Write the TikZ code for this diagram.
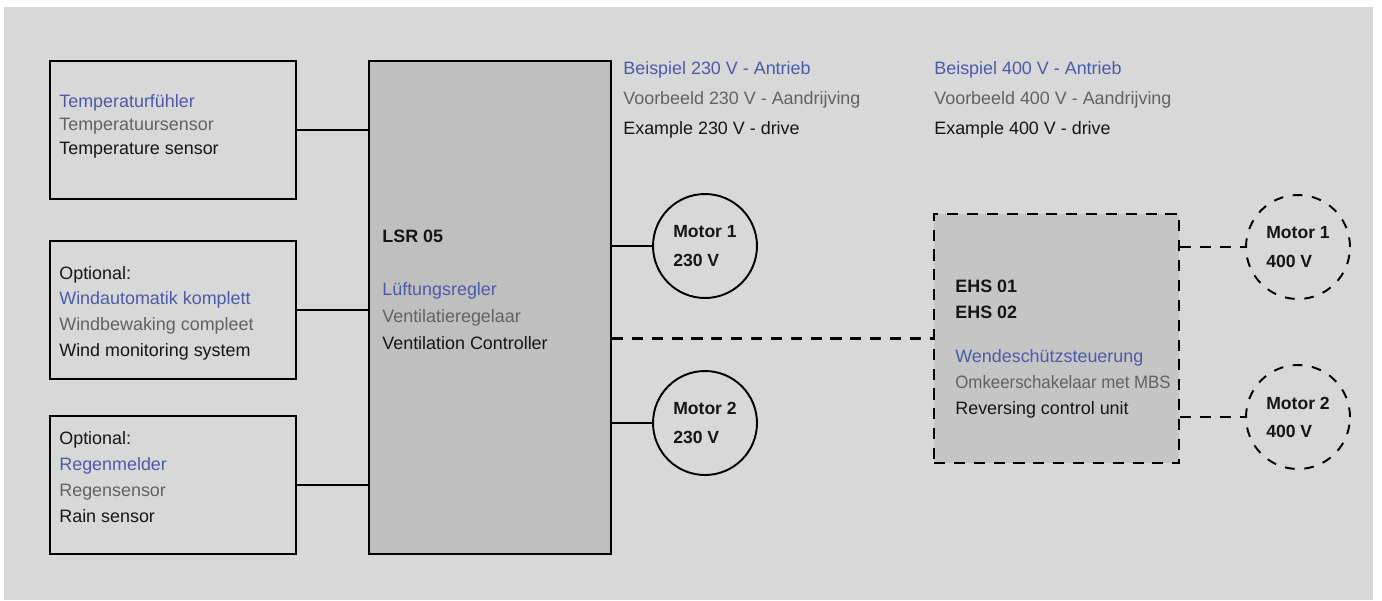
\documentclass[tikz,border=0pt]{standalone}
\usepackage{fontspec}
\usepackage{graphicx}
\setmainfont{Liberation Sans}
\usetikzlibrary{positioning}
\definecolor{PanelGrey}{HTML}{D8D8D8}
\definecolor{LsrGrey}{HTML}{BFBFBF}
\definecolor{EhsGrey}{HTML}{C5C5C5}
\definecolor{TxtBlue}{HTML}{4D5AA8}
\definecolor{TxtGrey}{HTML}{626262}
\definecolor{TxtBlack}{HTML}{161616}

% three languages: German, Dutch, English
\newcommand{\threelang}[3]{{\color{TxtBlue}#1}\\{\color{TxtGrey}#2}\\{\color{TxtBlack}#3}}

\tikzset{
  unitbox/.style={draw, line width=1.2pt, minimum width=4.92cm, minimum height=2.76cm},
  plaintxt/.style={anchor=base west, align=left, inner sep=0pt, text=TxtBlack},
  motor/.style={draw, circle, line width=1.1pt, minimum size=2.08cm, inner sep=0pt,
    align=left, font=\bfseries, text=TxtBlack},
  wire/.style={line width=1.2pt},
  optwire/.style={line width=1.2pt, dash pattern=on 6.3pt off 5pt}
}

\begin{document}
\begin{tikzpicture}[x=0.02cm, y=-0.02cm, font=\fontsize{10.2}{14.2}\selectfont]
  \useasboundingbox (0,0) rectangle (1382,600);
  \fill[white] (0,0) rectangle (1382,600);
  \fill[PanelGrey] (4,7) rectangle (1373,600);

  % Sensor boxes on the left (text placed at the last baseline)
  \node[unitbox] (temp) at (173,130) {};
  \node[unitbox] (wind) at (173,310) {};
  \node[unitbox] (rain) at (173,485) {};
  \node[plaintxt, font=\fontsize{10.2}{13.2}\selectfont] (temptxt) at (59,154) {\threelang{Temperaturfühler}{Temperatuursensor}{Temperature sensor}};
  \node[plaintxt, font=\fontsize{10.2}{14.6}\selectfont] (windtxt) at (59,356) {Optional:\\\threelang{Windautomatik komplett}{Windbewaking compleet}{Wind monitoring system}};
  \node[plaintxt, font=\fontsize{10.2}{14.8}\selectfont] (raintxt) at (59,522) {Optional:\\\threelang{Regenmelder}{Regensensor}{Rain  sensor}};

  % Controller
  \node[draw, line width=1.2pt, fill=LsrGrey, minimum width=4.84cm, minimum height=9.86cm] (lsr) at (490,307.5) {};
  \node[plaintxt, font=\fontsize{10.2}{15.2}\selectfont] (lsrtxt) at (382,349) {\textbf{LSR 05}\\[15.2pt]\threelang{Lüftungsregler}{Ventilatieregelaar}{Ventilation Controller}};

  % Drive examples
  \node[plaintxt, font=\fontsize{10.2}{17}\selectfont] (head230) at (623,134) {\threelang{Beispiel 230 V - Antrieb}{Voorbeeld 230 V - Aandrijving}{Example 230 V - drive}};
  \node[plaintxt, font=\fontsize{10.2}{17}\selectfont] (head400) at (934,134) {\threelang{Beispiel 400 V - Antrieb}{Voorbeeld 400 V - Aandrijving}{Example 400 V - drive}};

  \node[motor] (motA) at (705,246) {Motor 1\\[4pt]230 V};
  \node[motor] (motB) at (705,423) {Motor 2\\[4pt]230 V};

  % Reversing contactor unit (optional)
  \node[draw, line width=1.2pt, dash pattern=on 6.3pt off 5pt, fill=EhsGrey, minimum width=4.9cm, minimum height=4.98cm] (ehs) at (1056.5,338.5) {};
  \node[plaintxt, font=\fontsize{10.2}{14.8}\selectfont] (ehstxt) at (955,414) {\textbf{EHS 01}\\\textbf{EHS 02}\\[10pt]\threelang{Wendeschützsteuerung}{\scalebox{0.94}[1]{Omkeerschakelaar met MBS}}{Reversing control unit}};

  \node[motor, dash pattern=on 5.5pt off 5.5pt] (motC) at (1298,247) {Motor 1\\[4pt]400 V};
  \node[motor, dash pattern=on 5.5pt off 5.5pt] (motD) at (1298,417) {Motor 2\\[4pt]400 V};

  % Connections
  \draw[wire] (temp.east) -- (temp.east -| lsr.west);
  \draw[wire] (wind.east) -- (wind.east -| lsr.west);
  \draw[wire] (rain.east) -- (rain.east -| lsr.west);
  \draw[wire] (motA.west -| lsr.east) -- (motA.west);
  \draw[wire] (motB.west -| lsr.east) -- (motB.west);
  \draw[optwire] (lsr.east |- ehs.west) -- (ehs.west);
  \draw[optwire] (motC.west -| ehs.east) -- (motC.west);
  \draw[optwire] (motD.west -| ehs.east) -- (motD.west);
\end{tikzpicture}
\end{document}
